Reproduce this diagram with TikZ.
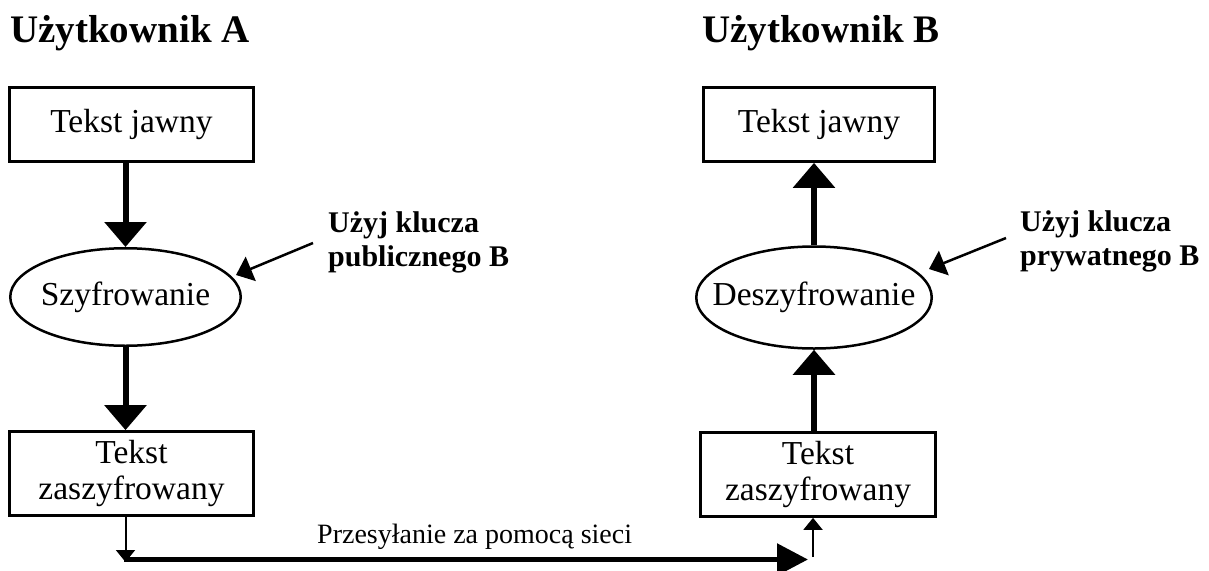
\documentclass[tikz,border=0pt]{standalone}
\usepackage{fontspec}
\setmainfont{Liberation Serif}
\usetikzlibrary{shapes.geometric,arrows.meta}
\begin{document}
\begin{tikzpicture}[x=1pt,y=-1pt,
  heading/.style={anchor=base west, inner sep=0pt, font=\fontsize{39}{44}\selectfont\bfseries},
  stagebox/.style={draw, rectangle, line width=2.7pt, inner sep=0pt, align=center,
    font=\fontsize{33.5}{36}\selectfont},
  stageoval/.style={draw, ellipse, line width=2.5pt, inner xsep=-20pt, inner ysep=0pt,
    font=\fontsize{33.5}{36}\selectfont},
  keylabel/.style={anchor=base west, inner sep=0pt, font=\fontsize{30}{34}\selectfont\bfseries},
  netlabel/.style={anchor=base west, inner sep=0pt, font=\fontsize{28}{30}\selectfont},
  flow/.style={line width=6pt, -{Triangle[length=25pt,width=41pt]}},
  smallflow/.style={line width=2pt, -{Triangle[length=12pt,width=19pt]}},
  netflow/.style={line width=5.5pt, -{Triangle[length=31pt,width=31pt]}},
  keyarrow/.style={line width=2.5pt, -{Triangle[length=16pt,width=26pt]}}]
\useasboundingbox (0,0) rectangle (1209,570);

% sender side
\node[heading] (ua) at (10,42) {Użytkownik A};
\node[stagebox, minimum width=244pt, minimum height=74pt] (pa) at (131.5,124.5) {Tekst jawny};
\node[stageoval, minimum width=230.5pt, minimum height=97.5pt] (ea) at (125.5,297) {Szyfrowanie};
\node[stagebox, minimum width=244pt, minimum height=84pt] (ca) at (131.5,473.5) {Tekst\\zaszyfrowany};

% receiver side
\node[heading] (ub) at (702,42) {Użytkownik B};
\node[stagebox, minimum width=231pt, minimum height=74pt] (pb) at (819,124.5) {Tekst jawny};
\node[stageoval, minimum width=235.5pt, minimum height=102pt] (eb) at (814,297.5) {Deszyfrowanie};
\node[stagebox, minimum width=235pt, minimum height=84pt] (cb) at (818,474.5) {Tekst\\zaszyfrowany};

% key notes
\node[keylabel] (ka) at (328,232) {\begin{tabular}[t]{@{}l@{}}Użyj klucza\\publicznego B\end{tabular}};
\node[keylabel] (kb) at (1020,231) {\begin{tabular}[t]{@{}l@{}}Użyj klucza\\prywatnego B\end{tabular}};
\coordinate (kaFrom) at (313,243);
\coordinate (kaTo) at (236,275);
\coordinate (kbFrom) at (1006,238);
\coordinate (kbTo) at (929,269);
\draw[keyarrow] (kaFrom) -- (kaTo);
\draw[keyarrow] (kbFrom) -- (kbTo);

% processing flow
\draw[flow] (pa.south -| ea.north) -- (ea.north);
\draw[flow] (ea.south) -- (ea.south |- ca.north);
\draw[flow] (cb.north -| eb.south) -- (eb.south);
\draw[flow] (eb.north) -- (eb.north |- pb.south);

% transfer over the network
\coordinate (sendTip) at (125.5,562);
\coordinate (netStart) at (124,559.5);
\coordinate (netEnd) at (808,559.5);
\coordinate (recvStart) at (813,557);
\draw[netflow] (netStart) -- (netEnd);
\draw[smallflow] (ca.south -| sendTip) -- (sendTip);
\draw[smallflow] (recvStart) -- (recvStart |- cb.south);
\node[netlabel] (net) at (317,543) {Przesyłanie za pomocą sieci};
\end{tikzpicture}
\end{document}
